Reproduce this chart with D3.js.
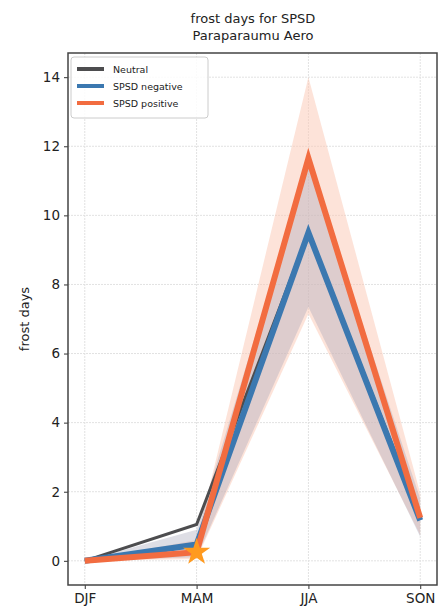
<!DOCTYPE html>
<html>
<head>
<meta charset="utf-8">
<script src="https://cdn.jsdelivr.net/npm/d3@7"></script>
<style>
  html, body { margin: 0; padding: 0; background: #fff; }
  svg { display: block; font-family: "DejaVu Sans", sans-serif; }
</style>
</head>
<body>
<svg id="chart" width="438" height="615"></svg>
<script>
// Seasonal frost days at Paraparaumu Aero by SPSD phase
const seasons = ["DJF", "MAM", "JJA", "SON"];
const neutral = [0, 1.05, 9.5, 1.3];
const spsdNegative = [0, 0.47, 9.5, 1.17];
const spsdPositive = [0, 0.25, 11.65, 1.24];
const negativeLow = [0, 0.1, 7.35, 0.7];
const negativeHigh = [0, 0.9, 11.6, 1.8];
const positiveLow = [0, 0.05, 7.15, 0.75];
const positiveHigh = [0, 0.6, 14.0, 1.95];
const yTicks = [0, 2, 4, 6, 8, 10, 12, 14];
const significant = ["MAM"];

const svg = d3.select("#chart");
const m = { left: 68, top: 53, right: 437, bottom: 585 };

const x = d3.scaleLinear().domain([-0.15, 3.15]).range([m.left, m.right]);
const y = d3.scaleLinear().domain([-0.7, 14.7]).range([m.bottom, m.top]);

// title
svg.append("text").attr("x", 253).attr("y", 23).attr("text-anchor", "middle")
  .attr("font-size", 13).attr("fill", "#222").text("frost days for SPSD");
svg.append("text").attr("x", 253).attr("y", 40).attr("text-anchor", "middle")
  .attr("font-size", 13).attr("fill", "#222").text("Paraparaumu Aero");

// grid
const grid = svg.append("g");
grid.selectAll("line.gy").data(yTicks).join("line")
  .attr("x1", m.left).attr("x2", m.right)
  .attr("y1", d => y(d)).attr("y2", d => y(d))
  .attr("stroke", "#e2e2e2").attr("stroke-width", 1).attr("stroke-dasharray", "2,1");
grid.selectAll("line.gx").data(seasons).join("line")
  .attr("y1", m.top).attr("y2", m.bottom)
  .attr("x1", (d, i) => x(i)).attr("x2", (d, i) => x(i))
  .attr("stroke", "#e2e2e2").attr("stroke-width", 1).attr("stroke-dasharray", "2,1");

// uncertainty bands
const area = (lo, hi) => d3.area().x((d, i) => x(i)).y0((d, i) => y(lo[i])).y1((d, i) => y(hi[i]))(seasons);
svg.append("path").attr("d", area(positiveLow, positiveHigh))
  .attr("fill", "#fbc8b4").attr("fill-opacity", 0.5);
svg.append("path").attr("d", area(negativeLow, negativeHigh))
  .attr("fill", "#a9a9bb").attr("fill-opacity", 0.38);

// series lines
const line = vals => d3.line().x((d, i) => x(i)).y((d, i) => y(vals[i]))(seasons);
const series = [
  { name: "Neutral", vals: neutral, color: "#4d4d4f", width: 3 },
  { name: "SPSD negative", vals: spsdNegative, color: "#3b78b0", width: 6 },
  { name: "SPSD positive", vals: spsdPositive, color: "#f26c40", width: 6 }
];
series.forEach(s => {
  svg.append("path").attr("d", line(s.vals)).attr("fill", "none")
    .attr("stroke", s.color).attr("stroke-width", s.width)
    .attr("stroke-linejoin", "miter").attr("stroke-linecap", "butt");
});

// significance star
const star = d3.symbol().type(d3.symbolStar).size(230);
significant.forEach(sname => {
  const i = seasons.indexOf(sname);
  svg.append("path").attr("d", star())
    .attr("transform", `translate(${x(i)},${y(spsdPositive[i])})`)
    .attr("fill", "#ff9a1f");
});

// axes
const yAxis = d3.axisLeft(y).tickValues(yTicks).tickSize(4).tickPadding(4);
const gy = svg.append("g").attr("transform", `translate(${m.left},0)`).call(yAxis);
gy.select(".domain").remove();
gy.selectAll("text").attr("font-size", 13.5).attr("fill", "#222").attr("font-family", "DejaVu Sans");
gy.selectAll("line").attr("stroke", "#333");

const xAxis = d3.axisBottom(x).tickValues([0, 1, 2, 3]).tickFormat(i => seasons[i]).tickSize(4).tickPadding(4);
const gx = svg.append("g").attr("transform", `translate(0,${m.bottom})`).call(xAxis);
gx.select(".domain").remove();
gx.selectAll("text").attr("font-size", 13.5).attr("fill", "#222").attr("font-family", "DejaVu Sans");
gx.selectAll("line").attr("stroke", "#333");

// frame
svg.append("rect").attr("x", m.left).attr("y", m.top)
  .attr("width", m.right - m.left).attr("height", m.bottom - m.top)
  .attr("fill", "none").attr("stroke", "#444").attr("stroke-width", 1.5);

// y label
svg.append("text").attr("transform", `translate(29,${(m.top + m.bottom) / 2}) rotate(-90)`)
  .attr("text-anchor", "middle").attr("font-size", 13).attr("fill", "#222").text("frost days");

// legend
const lg = svg.append("g").attr("transform", "translate(71,57)");
lg.append("rect").attr("width", 137).attr("height", 61).attr("rx", 3)
  .attr("fill", "#fff").attr("fill-opacity", 0.85).attr("stroke", "#ccc");
series.forEach((s, i) => {
  const yy = 12 + i * 17;
  lg.append("line").attr("x1", 6).attr("x2", 33).attr("y1", yy).attr("y2", yy)
    .attr("stroke", s.color).attr("stroke-width", 4);
  lg.append("text").attr("x", 42).attr("y", yy + 3.5).attr("font-size", 9.5)
    .attr("fill", "#222").text(s.name);
});
</script>
</body>
</html>
